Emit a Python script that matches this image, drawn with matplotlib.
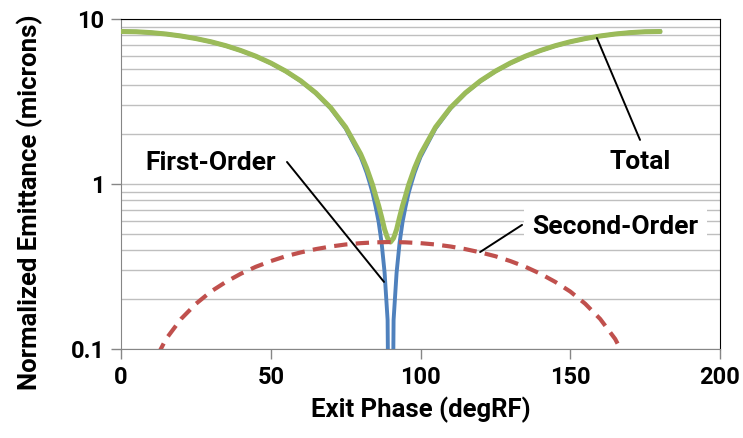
import matplotlib
matplotlib.use("Agg")
import matplotlib.pyplot as plt
from matplotlib.ticker import LogLocator, FixedLocator, NullFormatter

plt.rcParams["font.family"] = ["Roboto", "DejaVu Sans"]
plt.rcParams["font.weight"] = "bold"

# exit phase (degRF) and emittance (microns)
phase = [0, 5, 10, 15, 20, 25, 30, 35, 40, 45, 50, 55, 60, 65, 70, 75, 80,
         81, 82, 83, 84, 85, 86, 87, 88, 89, 90, 91, 92, 93, 94, 95, 96, 97, 98, 99, 100,
         105, 110, 115, 120, 125, 130, 135, 140, 145, 150, 155, 160, 165, 170, 175, 180]
first_order = [8.40, 8.37, 8.27, 8.11, 7.89, 7.61, 7.27, 6.88, 6.43, 5.94, 5.40, 4.82, 4.20, 3.55, 2.87, 2.17, 1.46,
               1.31, 1.17, 1.02, 0.88, 0.73, 0.59, 0.44, 0.29, 0.15, 0.001, 0.15, 0.29, 0.44, 0.59, 0.73, 0.88, 1.02, 1.17, 1.31, 1.46,
               2.17, 2.87, 3.55, 4.20, 4.82, 5.40, 5.94, 6.43, 6.88, 7.27, 7.61, 7.89, 8.11, 8.27, 8.37, 8.40]
total = [8.40, 8.37, 8.27, 8.11, 7.89, 7.61, 7.28, 6.89, 6.44, 5.95, 5.41, 4.83, 4.22, 3.57, 2.90, 2.21, 1.52,
         1.38, 1.25, 1.11, 0.985, 0.85, 0.74, 0.63, 0.53, 0.47, 0.445, 0.47, 0.53, 0.63, 0.74, 0.85, 0.985, 1.11, 1.25, 1.38, 1.52,
         2.21, 2.90, 3.57, 4.22, 4.83, 5.41, 5.95, 6.44, 6.89, 7.28, 7.61, 7.89, 8.11, 8.27, 8.37, 8.40]
phase_2nd = [5, 10, 15, 20, 25, 30, 35, 40, 45, 50, 55, 60, 65, 70, 75, 80, 85, 90,
             95, 100, 105, 110, 115, 120, 125, 130, 135, 140, 145, 150, 155, 160, 165, 170, 175]
second_order = [0.039, 0.077, 0.115, 0.152, 0.188, 0.223, 0.255, 0.286, 0.315, 0.341, 0.365, 0.385, 0.403, 0.418, 0.430, 0.438, 0.443, 0.445,
                0.443, 0.438, 0.430, 0.418, 0.403, 0.385, 0.365, 0.341, 0.315, 0.286, 0.255, 0.223, 0.188, 0.152, 0.115, 0.077, 0.039]

# callout labels: (text, label position, leader start, leader end)
callouts = [
    ("First-Order", (30.0, 1.34), (55.4, 1.36), (87.8, 0.255)),
    ("Total", (173.3, 1.36), (173.3, 1.85), (158.9, 7.67)),
    ("Second-Order", (165.0, 0.548), (133.9, 0.565), (119.9, 0.387)),
]

fig = plt.figure(figsize=(7.43, 4.38), dpi=100)
ax = fig.add_axes([0.163, 0.2032, 0.806, 0.7534])

ax.plot(phase, first_order, color="#4F81BD", lw=2.8, zorder=3)
ax.plot(phase, total, color="#9BBB59", lw=3.6, zorder=4, solid_capstyle="round")
ax.plot(phase_2nd, second_order, color="#C0504D", lw=3.0, dashes=(3.2, 2.0), zorder=5)

ax.set_yscale("log")
ax.set_xlim(0, 200)
ax.set_ylim(0.1, 10)
ax.set_xticks([0, 50, 100, 150, 200])
ax.yaxis.set_major_locator(FixedLocator([0.1, 1, 10]))
ax.set_yticklabels(["0.1", "1", "10"])
ax.yaxis.set_minor_locator(LogLocator(base=10, subs=range(2, 10)))
ax.yaxis.set_minor_formatter(NullFormatter())
ax.tick_params(axis="y", which="minor", length=0)
ax.tick_params(axis="both", which="major", length=7, width=1, color="#868686",
               labelsize=17, pad=5)
ax.grid(axis="y", which="both", color="#BFBFBF", lw=1.0, zorder=0)
ax.set_axisbelow(True)

for s in ["left", "bottom"]:
    ax.spines[s].set_color("#868686")
for s in ["top", "right"]:
    ax.spines[s].set_color("black")

ax.set_xlabel("Exit Phase (degRF)", fontsize=18.5, fontweight="bold", labelpad=6)
ax.set_ylabel("Normalized Emittance (microns)", fontsize=18.5, fontweight="bold")
ax.yaxis.set_label_coords(-0.13, 0.445)

for label, pos, start, end in callouts:
    ax.text(pos[0], pos[1], label, fontsize=19, fontweight="bold", ha="center", va="center",
            zorder=6, bbox=dict(facecolor="white", edgecolor="none", pad=6))
    ax.annotate("", xy=end, xytext=start, zorder=7,
                arrowprops=dict(arrowstyle="-", color="black", lw=1.4, shrinkA=0, shrinkB=0))

fig.savefig("out.png", dpi=100)
